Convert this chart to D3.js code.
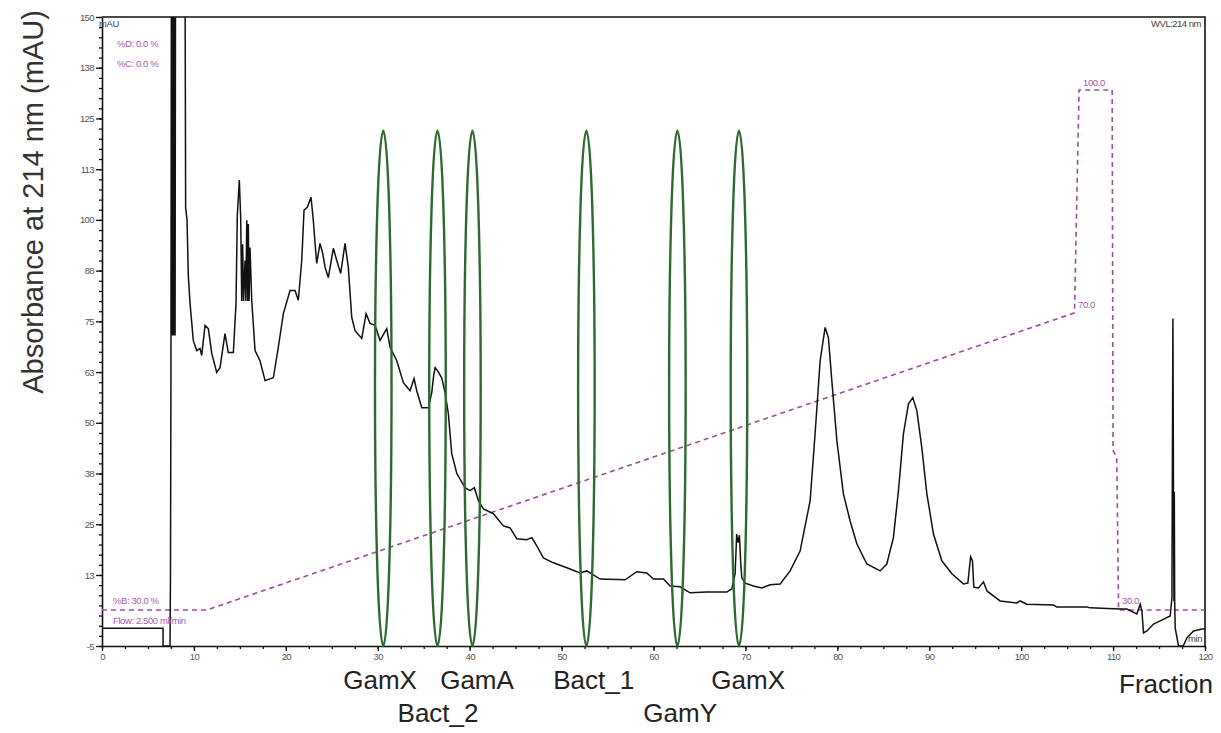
<!DOCTYPE html>
<html>
<head>
<meta charset="utf-8">
<script src="https://cdn.jsdelivr.net/npm/d3@7"></script>
<style>
  body { margin: 0; background: #fff; }
  text { font-family: "Liberation Sans", Arial, sans-serif; }
</style>
</head>
<body>
<div id="chart"></div>
<script>
// Chromatogram trace: retention time (min) and absorbance (mAU).
var traceTime = [0, 6.64, 6.64, 7.40, 7.45, 7.50, 7.55, 7.65, 7.72, 7.80, 7.87, 7.95, 8.0, 9.03, 9.10, 9.25, 9.39, 9.58, 9.93, 10.30,
  10.66, 10.85, 11.21, 11.57, 11.94, 12.48, 12.84, 13.38, 13.74, 14.29, 14.58, 14.72, 14.94, 15.09, 15.2, 15.3, 15.4, 15.56, 15.65, 15.75,
  15.85, 15.92, 16.0, 16.10, 16.29, 16.65, 17.19, 17.74, 18.64, 19.18, 19.73, 20.46, 21.00, 21.36, 21.73, 21.98, 22.34, 22.74, 22.99, 23.18,
  23.36, 23.72, 24.01, 24.27, 24.62, 25.17, 25.54, 25.97, 26.44, 26.80, 26.99, 27.17, 27.53, 28.26, 28.73, 29.16, 29.71, 30.25, 30.98, 31.34,
  32.07, 32.79, 33.51, 33.95, 34.24, 34.79, 35.51, 35.88, 36.1, 36.25, 36.6, 36.96, 37.32, 37.68, 38.05, 38.60, 39.50, 40.04, 40.51, 40.95,
  41.49, 42.58, 43.67, 44.40, 45.13, 46.21, 46.76, 47.30, 48.02, 49.11, 50.57, 52.01, 52.74, 54.19, 56.91, 58.18, 59.27, 59.99, 61.08, 61.81,
  62.89, 63.98, 65.80, 67.98, 68.52, 68.88, 69.05, 69.2, 69.35, 69.5, 69.61, 69.97, 70.87, 71.78, 72.69, 73.78, 74.86, 75.95, 77.04, 77.58,
  78.13, 78.67, 79.03, 79.40, 79.95, 80.66, 81.39, 82.12, 83.21, 84.66, 85.38, 86.10, 86.65, 87.19, 87.74, 88.21, 88.65, 89.19, 89.74, 90.46,
  91.37, 92.46, 93.72, 94.2, 94.5, 94.7, 94.85, 95.35, 95.9, 96.3, 97.71, 99.53, 99.89, 100.62, 103.51, 103.88, 107.15, 107.51, 110.77, 111.50, 112.59,
  112.95, 113.14, 113.31, 113.68, 114.40, 115.13, 116.21, 116.40, 116.51, 116.57, 116.62, 116.66, 116.70, 116.76, 117.12, 117.63, 118.03, 118.75, 119.67, 120];
var traceAbs = [-0.6, -0.6, -5, -5, 12.3, 61.0, 165, 71.5, 165, 71.5, 165, 71.5, 165, 165, 103, 100, 86.3, 79.4, 70.3, 67.8,
  68.3, 66.6, 74.0, 73.2, 67.1, 62.4, 63.6, 72.0, 67.3, 67.3, 79.4, 101.1, 109.8, 100.4, 80, 94, 80, 90, 80, 99.9,
  80, 99, 80, 93.2, 80.2, 67.8, 65.3, 60.4, 61.1, 68.6, 76.9, 82.6, 82.6, 80.2, 90.0, 102.4, 103.1, 105.6, 99.9, 94.2,
  89.3, 94.2, 91.8, 88.3, 85.8, 93.0, 90.0, 86.8, 94.2, 88.3, 81.9, 76.0, 72.7, 70.8, 76.9, 74.5, 74.0, 70.3, 73.2, 68.6,
  65.3, 59.9, 57.9, 60.9, 57.9, 53.7, 53.7, 57.5, 62, 63.6, 62.5, 61.1, 57.5, 52.3, 42.4, 37.5, 34.0, 33.3, 34.0, 30.8,
  28.8, 27.6, 24.6, 24.1, 21.4, 21.2, 21.7, 19.7, 16.7, 15.5, 14.3, 13.0, 13.5, 11.5, 11.3, 13.3, 13.0, 11.5, 11.5, 9.8,
  9.6, 8.1, 8.3, 8.3, 9.1, 12.8, 22.6, 20.5, 22.3, 15.0, 11.8, 10.5, 9.8, 9.3, 10.1, 10.3, 13.5, 18.4, 30.8, 47.3,
  65.3, 73.5, 71.0, 60.4, 45.6, 32.5, 25.8, 20.2, 15.2, 13.5, 15.2, 21.7, 33.3, 47.3, 54.7, 56.2, 53.0, 43.9, 32.5, 22.6,
  16.0, 12.8, 10.3, 10.5, 17.0, 16.0, 9.5, 9.3, 10.8, 8.5, 6.1, 5.6, 6.1, 5.3, 5.1, 4.6, 4.6, 4.4, 4.1, 4.1, 2.9,
  5.3, 3.6, -1.8, -1.3, 0.4, 1.2, 2.4, 6.8, 75.7, 33, 6, 33, 6, -0.6, -5, -5, -3.0, -1.3, -0.8, -0.8];

// Solvent gradient (%B) program.
var gradTime = [0, 11.4, 105.8, 106.3, 109.9, 110.0, 110.4, 110.6, 120];
var gradB = [30, 30, 70, 100, 100, 51.5, 50.5, 30, 30];

// Collected fractions (green ellipses) and their labels.
var fractionTimes = [30.6, 36.5, 40.3, 52.7, 62.6, 69.3];
var fractionTop = 122, fractionBottom = -5;
var fractionNames = ["GamX", "Bact_2", "GamA", "Bact_1", "GamY", "GamX"];
var fractionLabelTimes = [30.25, 36.56, 40.8, 53.5, 62.9, 70.3];
var fractionRows = [0, 1, 0, 0, 1, 0];

// Axis ticks.
var xTicks = [0, 10, 20, 30, 40, 50, 60, 70, 80, 90, 100, 110, 120];
var yTicks = [-5, 12.5, 25, 37.5, 50, 62.5, 75, 87.5, 100, 112.5, 125, 137.5, 150];

var W = 1221, H = 733;
var plotLeft = 102, plotRight = 1205, plotTop = 17, plotBottom = 646;

var svg = d3.select("#chart").append("svg")
    .attr("width", W)
    .attr("height", H);

var x = d3.scaleLinear().domain([0, 120]).range([plotLeft, plotRight]);
var y = d3.scaleLinear().domain([-5, 150]).range([plotBottom, plotTop]);
// %B scale of the gradient overlay
var yB = d3.scaleLinear().domain([30, 100]).range([610, 90]);

svg.append("clipPath").attr("id", "plot-clip")
  .append("rect")
    .attr("x", plotLeft).attr("y", plotTop)
    .attr("width", plotRight - plotLeft).attr("height", plotBottom - plotTop);

// minor ticks
svg.append("g")
    .attr("transform", "translate(0," + plotBottom + ")")
    .call(d3.axisBottom(x).tickValues(d3.range(0, 120.1, 2.5)).tickSize(3).tickFormat(""))
    .call(function(g){ g.select(".domain").remove(); });
svg.append("g")
    .attr("transform", "translate(" + plotLeft + ",0)")
    .call(d3.axisLeft(y).tickValues(d3.range(-5, 150.1, 2.5)).tickSize(3).tickFormat(""))
    .call(function(g){ g.select(".domain").remove(); });

// major ticks + labels
var xAxis = svg.append("g")
    .attr("transform", "translate(0," + plotBottom + ")")
    .call(d3.axisBottom(x).tickValues(xTicks).tickSize(5).tickPadding(2).tickSizeOuter(0));
var yAxis = svg.append("g")
    .attr("transform", "translate(" + plotLeft + ",0)")
    .call(d3.axisLeft(y).tickValues(yTicks).tickSize(6).tickPadding(2).tickSizeOuter(0)
      .tickFormat(function(d){ return Math.round(d); }));

[xAxis, yAxis].forEach(function(a){
  a.selectAll("text").attr("fill", "#555").style("font-size", "9.5px").style("letter-spacing", "-0.6px");
  a.select(".domain").attr("stroke", "#111").attr("stroke-width", 1.6);
});
svg.selectAll("g.tick line").attr("stroke", "#111").attr("stroke-width", 1.3);

// frame top and right
svg.append("path")
    .attr("d", "M" + plotLeft + "," + plotTop + "H" + plotRight + "V" + plotBottom)
    .attr("fill", "none")
    .attr("stroke", "#111")
    .attr("stroke-width", 1.6);

var plot = svg.append("g").attr("clip-path", "url(#plot-clip)");

// gradient overlay
var gradLine = d3.line()
    .x(function(d, i){ return x(gradTime[i]); })
    .y(function(d){ return yB(d); });
plot.append("path")
    .attr("d", gradLine(gradB))
    .attr("fill", "none")
    .attr("stroke", "#9a4c9e")
    .attr("stroke-width", 1.6)
    .attr("stroke-dasharray", "5,4");

// chromatogram
var trace = d3.line()
    .x(function(d, i){ return x(traceTime[i]); })
    .y(function(d){ return y(d); });
plot.append("path")
    .attr("d", trace(traceAbs))
    .attr("fill", "none")
    .attr("stroke", "#111")
    .attr("stroke-width", 1.5)
    .attr("stroke-linejoin", "miter");

// fraction ellipses
svg.append("g").selectAll("ellipse")
    .data(fractionTimes)
    .enter().append("ellipse")
      .attr("cx", function(d){ return x(d); })
      .attr("cy", y((fractionTop + fractionBottom) / 2))
      .attr("rx", x(0.9) - x(0))
      .attr("ry", (y(fractionBottom) - y(fractionTop)) / 2)
      .attr("fill", "none")
      .attr("stroke", "#2e6a30")
      .attr("stroke-width", 2.4);

// small instrument annotations
var purple = "#a85aa8";
var notes = [
  {t: "%D: 0.0 %", x: 117, y: 47, c: purple},
  {t: "%C: 0.0 %", x: 117, y: 67, c: purple},
  {t: "%B: 30.0 %", x: 113, y: 604, c: purple},
  {t: "Flow: 2.500 ml/min", x: 113, y: 624, c: purple},
  {t: "70.0", x: 1078, y: 308, c: purple},
  {t: "100.0", x: 1083, y: 86, c: purple},
  {t: "30.0", x: 1122, y: 604, c: purple},
  {t: "mAU", x: 99, y: 27, c: "#445"},
  {t: "min", x: 1188, y: 642, c: "#444"}
];
svg.append("g").selectAll("text")
    .data(notes)
    .enter().append("text")
      .attr("x", function(d){ return d.x; })
      .attr("y", function(d){ return d.y; })
      .attr("fill", function(d){ return d.c; })
      .style("font-size", "9.5px")
      .style("letter-spacing", "-0.4px")
      .text(function(d){ return d.t; });

svg.append("text")
    .attr("x", 1201)
    .attr("y", 27)
    .attr("text-anchor", "end")
    .attr("fill", "#444")
    .style("font-size", "9.5px")
    .style("letter-spacing", "-0.5px")
    .text("WVL:214 nm");

// fraction labels
svg.append("g").selectAll("text")
    .data(fractionNames)
    .enter().append("text")
      .attr("x", function(d, i){ return x(fractionLabelTimes[i]); })
      .attr("y", function(d, i){ return fractionRows[i] ? 722 : 689; })
      .attr("text-anchor", "middle")
      .attr("fill", "#222")
      .style("font-size", "26px")
      .text(function(d){ return d; });

// axis titles
svg.append("text")
    .attr("x", 1213)
    .attr("y", 693)
    .attr("text-anchor", "end")
    .attr("fill", "#222")
    .style("font-size", "26px")
    .text("Fraction");

svg.append("text")
    .attr("transform", "translate(43,202) rotate(-90)")
    .attr("text-anchor", "middle")
    .attr("fill", "#333")
    .style("font-size", "29px")
    .text("Absorbance at 214 nm (mAU)");
</script>
</body>
</html>
